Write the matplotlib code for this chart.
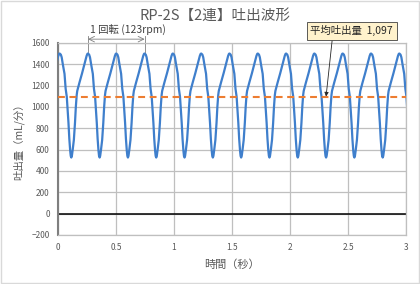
"""RP-2S (2-head) discharge waveform"""

import matplotlib
matplotlib.use("Agg")
import matplotlib.pyplot as plt
from matplotlib.patches import Rectangle

plt.rcParams["font.family"] = ["Noto Sans CJK JP", "DejaVu Sans"]

# pump data
rpm = 123
mean_flow = 1097
first_peak = 0.015  # s, time of first peak on the trace

# one discharge stroke (phase 0 = peak)
cycle_phase = [0.00, 0.04, 0.07, 0.11, 0.17, 0.21, 0.25, 0.28, 0.31, 0.34,
               0.37, 0.39, 0.41, 0.43, 0.46, 0.50, 0.54, 0.57, 0.60, 0.62,
               0.66, 0.70, 0.79, 0.88, 0.95, 0.98]
cycle_flow = [1500, 1490, 1465, 1400, 1310, 1170, 1095, 980, 850, 700,
              590, 540, 525, 540, 600, 690, 850, 1000, 1110, 1150,
              1190, 1230, 1315, 1408, 1478, 1498]

x_ticks = [0, 0.5, 1, 1.5, 2, 2.5, 3]
x_labels = ["0", "0.5", "1", "1.5", "2", "2.5", "3"]
y_ticks = list(range(-200, 1601, 200))

# 2 strokes per revolution
stroke = 60.0 / rpm / 2
t, flow = [], []
for k in range(-1, 14):
    for p, v in zip(cycle_phase, cycle_flow):
        t.append(first_peak + (k + p) * stroke)
        flow.append(v)

fig = plt.figure(figsize=(4.2, 2.84), dpi=100)
ax = fig.add_axes([0.138, 0.173, 0.829, 0.676])
fig.patches.append(Rectangle((0.002, 0.004), 0.996, 0.992, transform=fig.transFigure,
                             fill=False, edgecolor="#D9D9D9", linewidth=1))

ax.plot(t, flow, color="#3F7FCC", linewidth=1.6, zorder=3)
ax.axhline(mean_flow, color="#ED7D31", linewidth=1.5, dashes=(3.3, 2.2), zorder=4)
ax.axhline(0, color="black", linewidth=1.1, zorder=2)

ax.set_xlim(0, 3)
ax.set_ylim(-200, 1600)
ax.set_xticks(x_ticks)
ax.set_xticklabels(x_labels)
ax.set_yticks(y_ticks)
ax.grid(True, color="#BFBFBF", linewidth=0.9)
ax.set_axisbelow(True)
ax.tick_params(length=0, labelsize=6, labelcolor="#595959", pad=6)
for side in ["top", "right", "bottom"]:
    ax.spines[side].set_color("#BFBFBF")
    ax.spines[side].set_linewidth(0.9)
ax.spines["left"].set_color("#7F7F7F")
ax.spines["left"].set_linewidth(1.5)

fig.text(0.513, 0.945, "RP-2S【2連】吐出波形", fontsize=10.5, color="#595959",
         ha="center", va="center")
ax.set_xlabel("時間（秒）", fontsize=8, color="#595959", labelpad=5)
ax.set_ylabel("吐出量（mL/分）", fontsize=7.5, color="#595959", labelpad=5)

# one revolution marker
t1 = first_peak + stroke
t2 = first_peak + 3 * stroke
ax.annotate("", xy=(t1, 1635), xytext=(t2, 1635), annotation_clip=False,
            arrowprops=dict(arrowstyle="<->", color="#7F7F7F", linewidth=0.6,
                            shrinkA=0, shrinkB=0))
for tt in [t1, t2]:
    ax.plot([tt, tt], [1500, 1665], color="#7F7F7F", linewidth=0.6, clip_on=False)
ax.text(0.6, 1730, "1 回転 (123rpm)", fontsize=7.5, color="#404040",
        ha="center", va="center")

# mean value callout
ax.annotate(f"平均吐出量  {mean_flow:,}", xy=(2.31, mean_flow), xytext=(2.53, 1714),
            fontsize=7.5, color="#262626", ha="center", va="center",
            annotation_clip=False,
            bbox=dict(boxstyle="square,pad=0.35", facecolor="#FFF2CC",
                      edgecolor="#404040", linewidth=0.6),
            arrowprops=dict(arrowstyle="-|>", color="#262626", linewidth=0.6,
                            mutation_scale=6, shrinkA=0, shrinkB=0,
                            relpos=(0.27, 0)))

fig.savefig("out.png", dpi=100)
